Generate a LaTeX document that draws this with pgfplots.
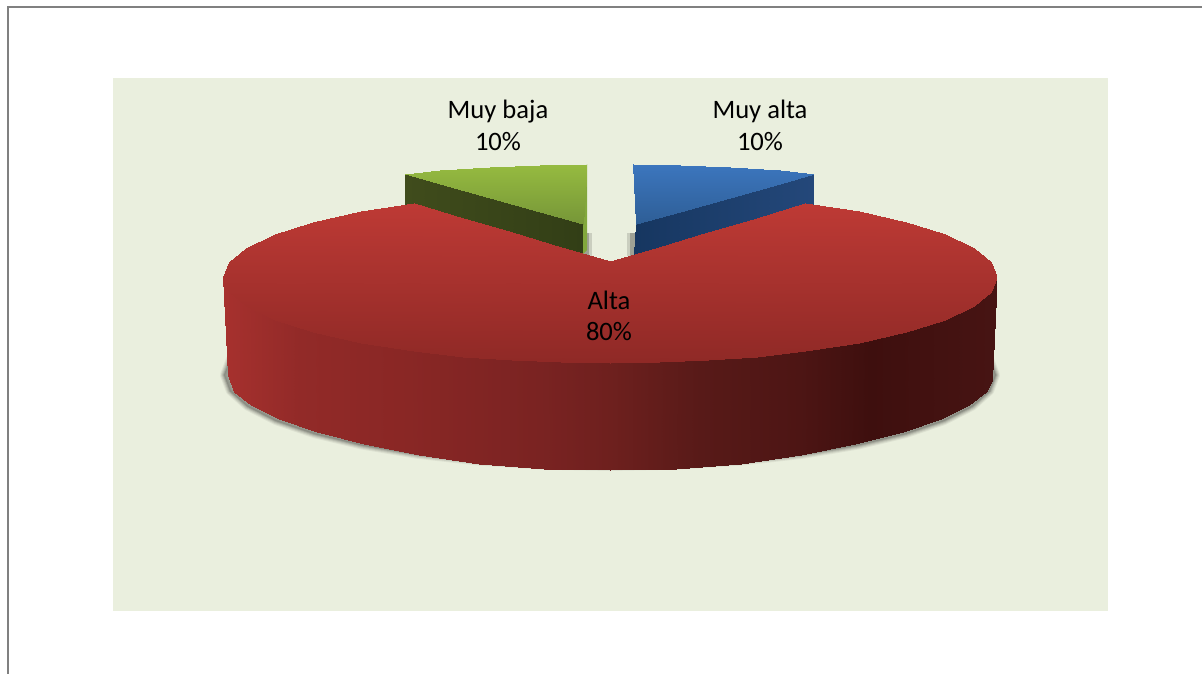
\documentclass[border=0pt]{standalone}
\usepackage{pgfplots}
\pgfplotsset{compat=1.18}
\usepackage{pgfplotstable}
\usepackage{fontspec}
\setmainfont{Carlito}
\definecolor{bgc}{RGB}{234,239,222}
\definecolor{framec}{RGB}{128,128,128}
\pgfplotstableread{
x y
990 359
996 375
990.1 391
972.7 406.5
944.3 421
905.7 434.1
858.1 445.5
803 454.7
742 461.5
677 465.6
610 467
543 465.6
478 461.5
417 454.7
361.9 445.5
314.3 434.1
275.7 421
247.3 406.5
229.9 391
224 375
230 359
}\shadowtab
\pgfplotstableread{
x y
223 277
223 277
229 262
229 292
246 248
246 306
275 234
275 320
313.5 221.7
313.5 332.3
361 211.1
361 342.9
414 203
414 351.1
463 217.5
463 356.5
512 232
512 360.2
561 246.5
561 362.3
610 261
610 363
659 246.5
659 362.3
708 232
708 360.2
757 217.5
757 356.5
805 203
805 351.1
859 211.1
859 342.9
906.5 221.7
906.5 332.3
945 234
945 320
974 248
974 306
991 262
991 292
997 277
997 277
}\redtop
\pgfplotstableread{
x y
223 277
228 375
228.9 287.9
233.8 392
246.3 302.4
251 405
274.9 316
279.2 419
313.5 328.3
317.4 432
361.2 338.9
364.5 444
416.5 347.5
419 455
477.6 353.8
479.4 464
542.8 357.7
543.7 468.6
610 359
610 470
677.2 357.7
676.3 468.6
742.4 353.8
740.6 464
803.5 347.5
801 455
858.8 338.9
855.5 444
906.5 328.3
902.6 432
945.1 316
940.8 419
973.7 302.4
969 405
991.1 287.9
986.2 392
997 277
992 380
}\redside
\pgfplotstableread{
x y
405 174
405 174
440 170
440 183.8
490 167
490 197.9
540 165
540 211.9
587 164
583 224
}\greentop
\pgfplotstableread{
x y
633 164
636 224
680 165
680 211.7
730 167
730 197.7
780 170
780 183.6
814 174
814 174
}\bluetop
\pgfplotstableread{
x y
405 174
405 205
583 224
583 254
}\greenside
\pgfplotstableread{
x y
636 224
634 254
814 174
814 205
}\blueside
\begin{document}
\begin{tikzpicture}
\useasboundingbox (0,0) rectangle (1202bp,674bp);
\begin{axis}[
  at={(0,0)}, anchor=south west,
  scale only axis, width=1202bp, height=674bp,
  xmin=0, xmax=1202, ymin=0, ymax=674, y dir=reverse,
  hide axis, clip=true, point meta min=0, point meta max=1000,
  /tikz/every node/.append style={font=\fontsize{26.7}{31.5}\selectfont, text=black, align=center, inner sep=0pt},
]
% frame
\addplot[draw=framec, line width=2bp, forget plot] coordinates {(8,674) (8,7.5) (1202,7.5)};
% plot area
\addplot[fill=bgc, draw=none, forget plot] coordinates {(113,78) (1108,78) (1108,611) (113,611)} -- cycle;
% soft shadow of the base
\addplot[fill=black!45!bgc, draw=black!45!bgc, opacity=.12, line width=8bp, line join=round, forget plot] table[x=x,y=y] {\shadowtab} -- cycle;
\addplot[fill=black!45!bgc, draw=black!45!bgc, opacity=.18, line width=6bp, line join=round, forget plot] table[x=x,y=y] {\shadowtab} -- cycle;
\addplot[fill=black!45!bgc, draw=black!45!bgc, opacity=.25, line width=4bp, line join=round, forget plot] table[x=x,y=y] {\shadowtab} -- cycle;
\addplot[fill=black!45!bgc, draw=black!45!bgc, opacity=.4, line width=2bp, line join=round, forget plot] table[x=x,y=y] {\shadowtab} -- cycle;
% small shadows beside the slices
\addplot[fill=black!45!bgc, draw=none, opacity=.3, forget plot] coordinates {(583,233) (592,233) (592,256) (583,256)} -- cycle;
\addplot[fill=black!45!bgc, draw=none, opacity=.6, forget plot] coordinates {(583,233) (589,233) (589,256) (583,256)} -- cycle;
\addplot[fill=black!45!bgc, draw=none, opacity=.3, forget plot] coordinates {(627,233) (636,233) (636,256) (627,256)} -- cycle;
\addplot[fill=black!45!bgc, draw=none, opacity=.6, forget plot] coordinates {(630,233) (636,233) (636,256) (630,256)} -- cycle;
% green slice
\addplot[surf, shader=interp, mesh/rows=2, mesh/cols=2, point meta=x,
  colormap={gs}{rgb255(0pt)=(64,76,28); rgb255(405pt)=(64,76,28); rgb255(583pt)=(50,62,22); rgb255(1000pt)=(50,62,22)}, forget plot] table[x=x,y=y] {\greenside};
\addplot[fill={rgb,255:red,130;green,168;blue,60}, draw=none, forget plot] coordinates {(587,164) (583,224) (583,254) (587,250)} -- cycle;
\addplot[surf, shader=interp, mesh/rows=5, mesh/cols=2, point meta=\thisrow{y},
  colormap={gt}{rgb255(0pt)=(150,187,64); rgb255(164pt)=(150,187,64); rgb255(224pt)=(118,150,56); rgb255(1000pt)=(118,150,56)}, forget plot] table[x=x,y=y] {\greentop};
% blue slice
\addplot[surf, shader=interp, mesh/rows=2, mesh/cols=2, point meta=x,
  colormap={bs}{rgb255(0pt)=(22,54,96); rgb255(634pt)=(22,54,96); rgb255(814pt)=(36,72,122); rgb255(1000pt)=(36,72,122)}, forget plot] table[x=x,y=y] {\blueside};
\addplot[surf, shader=interp, mesh/rows=5, mesh/cols=2, point meta=\thisrow{y},
  colormap={bt}{rgb255(0pt)=(60,118,190); rgb255(164pt)=(60,118,190); rgb255(224pt)=(46,94,150); rgb255(1000pt)=(46,94,150)}, forget plot] table[x=x,y=y] {\bluetop};
% red slice
\addplot[surf, shader=interp, mesh/rows=19, mesh/cols=2, point meta=x,
  colormap={rs}{rgb255(0pt)=(167,49,46); rgb255(223pt)=(167,49,46); rgb255(300pt)=(146,42,40); rgb255(400pt)=(138,39,37); rgb255(540pt)=(122,35,34); rgb255(610pt)=(110,32,30); rgb255(700pt)=(88,26,24); rgb255(800pt)=(77,21,20); rgb255(870pt)=(62,15,14); rgb255(997pt)=(71,20,19); rgb255(1000pt)=(71,20,19)}, forget plot] table[x=x,y=y] {\redside};
\addplot[surf, shader=interp, mesh/rows=21, mesh/cols=2, point meta=\thisrow{y},
  colormap={rt}{rgb255(0pt)=(190,58,53); rgb255(203pt)=(190,58,53); rgb255(363pt)=(143,41,38); rgb255(1000pt)=(143,41,38)}, forget plot] table[x=x,y=y] {\redtop};
% labels
\node at (axis cs:498,125.5) {Muy baja\\10\%};
\node at (axis cs:760,125.5) {Muy alta\\10\%};
\node at (axis cs:609,316) {Alta\\80\%};
\end{axis}
\end{tikzpicture}
\end{document}
